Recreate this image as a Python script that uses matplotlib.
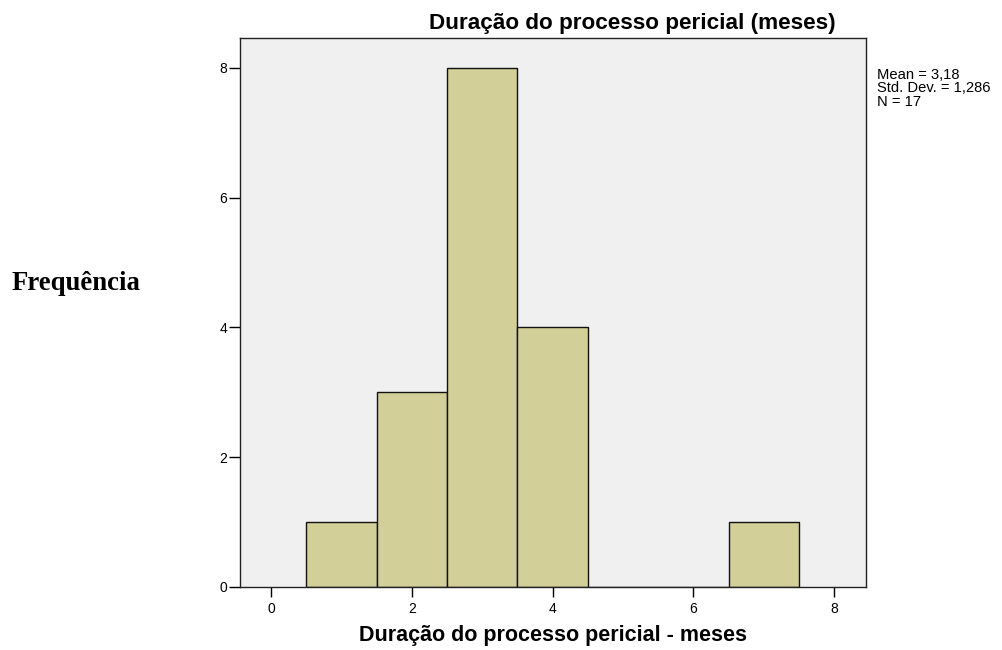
import matplotlib
matplotlib.use('Agg')
import matplotlib.pyplot as plt
import numpy as np

# dados do histograma (meses)
bin_centers = [1, 2, 3, 4, 5, 6, 7]
counts = [1, 3, 8, 4, 0, 0, 1]
x_ticks = [0, 2, 4, 6, 8]
y_ticks = [0, 2, 4, 6, 8]
stats_lines = ['Mean = 3,18', 'Std. Dev. = 1,286', 'N = 17']

title = 'Duração do processo pericial (meses)'
xlabel = 'Duração do processo pericial - meses'
ylabel = 'Frequência'

fig = plt.figure(figsize=(10.03, 6.5), dpi=100)
ax = fig.add_axes([240 / 1003, 1 - 587 / 650, 626 / 1003, 549 / 650])
ax.set_facecolor('#f0f0f0')

ax.bar(bin_centers, counts, width=1.0, color='#d3cf98', edgecolor='#111111', linewidth=1.0)

ax.set_xlim(-0.44, 8.45)
ax.set_ylim(0, 8.46)
ax.set_xticks(x_ticks)
ax.set_yticks(y_ticks)
ax.tick_params(axis='x', length=7, width=1, labelsize=10, pad=4, color='black')
ax.tick_params(axis='y', length=8, width=1, labelsize=10, pad=1, color='black')
for lab in ax.get_xticklabels() + ax.get_yticklabels():
    lab.set_family('Liberation Sans')
for s in ax.spines.values():
    s.set_linewidth(1.0)
    s.set_color('#222222')

fig.text(632 / 1003, 1 - 24 / 650, title, ha='center', va='center',
         fontsize=16.2, fontweight='bold', family='Liberation Sans')
fig.text(553 / 1003, 1 - 635 / 650, xlabel, ha='center', va='center',
         fontsize=15.5, fontweight='bold', family='Liberation Sans')
fig.text(12 / 1003, 1 - 283 / 650, ylabel, ha='left', va='center',
         fontsize=19.3, fontweight='bold', family='Liberation Serif')

# caixa de estatísticas, uma linha de cada vez
for i, line in enumerate(stats_lines):
    fig.text(877 / 1003, 1 - (75 + 13.5 * i) / 650, line, ha='left', va='center',
             fontsize=10.6, family='Liberation Sans')

fig.savefig('out.png', dpi=100)
